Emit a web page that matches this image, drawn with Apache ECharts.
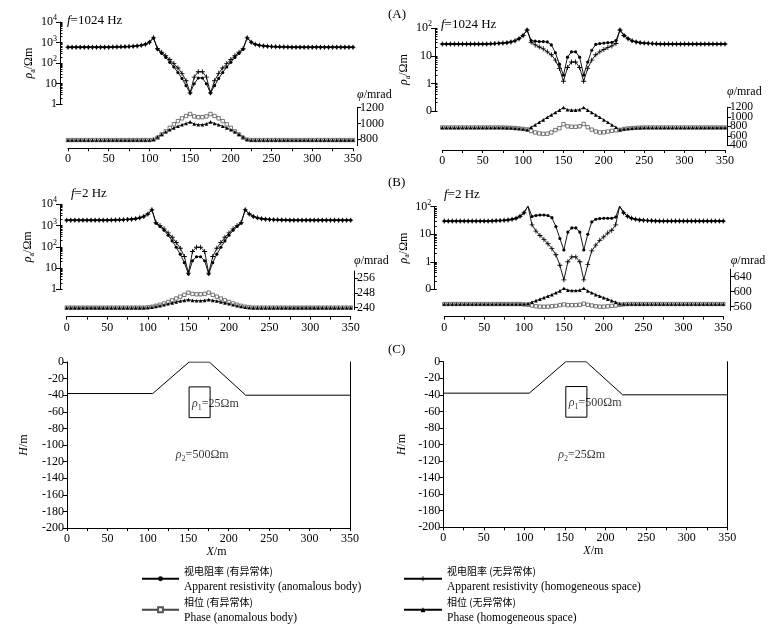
<!DOCTYPE html>
<html><head><meta charset="utf-8">
<script src="https://cdn.jsdelivr.net/npm/echarts@6/dist/echarts.min.js"></script>
<style>html,body{margin:0;padding:0;background:#fff}#c{width:781px;height:630px}</style>
</head><body><div id="c"></div>
<script>
// ---------- data ----------
const xs = [0,5,10,15,20,25,30,35,40,45,50,55,60,65,70,75,80,85,90,95,100,105,110,115,120,125,130,135,140,145,150,155,160,165,170,175,180,185,190,195,200,205,210,215,220,225,230,235,240,245,250,255,260,265,270,275,280,285,290,295,300,305,310,315,320,325,330,335,340,345,350];

// (A) left: f=1024 Hz, rho1=25, rho2=500
const tlRhoA = [600,600,600,600,600,600,600,600,600,600, 600,610,615,620,630,640,660,690,740,830, 1050,1700,470,300,190,110,65,35,18,8, 3.5,10,19,19,10,3.5,8,18,35,65, 110,190,300,470,1700,1050,830,740,690,660, 640,630,620,615,610,600,600,600,600,600, 600,600,600,600,600,600,600,600,600,600, 600];
const tlRhoH = [600,600,600,600,600,600,600,600,600,600, 600,610,615,620,630,640,660,690,740,830, 1050,1700,500,340,230,150,95,58,32,14, 3.6,21,38,38,21,3.6,14,32,58,95, 150,230,340,500,1700,1050,830,740,690,660, 640,630,620,615,610,600,600,600,600,600, 600,600,600,600,600,600,600,600,600,600, 600];
const tlPhA = [790,790,790,790,790,790,790,790,790,790, 790,790,790,790,790,790,790,790,790,790, 790,795,820,860,900,945,990,1030,1065,1095, 1120,1090,1080,1080,1090,1120,1095,1065,1030,990, 945,900,860,820,795,790,790,790,790,790, 790,790,790,790,790,790,790,790,790,790, 790,790,790,790,790,790,790,790,790,790, 790];
const tlPhH = [790,790,790,790,790,790,790,790,790,790, 790,790,790,790,790,790,790,790,790,790, 790,800,830,865,895,920,945,965,985,1000, 1020,995,985,985,995,1020,1000,985,965,945, 920,895,865,830,800,790,790,790,790,790, 790,790,790,790,790,790,790,790,790,790, 790,790,790,790,790,790,790,790,790,790, 790];

// (A) right: f=1024 Hz, rho1=500, rho2=25
const trRhoA = [27,27,27,27,27,27,27,27,27,27, 27,27,27.5,28,28.5,29,30,32,35,42, 55,87,36,34,33,33,32,25,13,5, 2,9,14,14,9,2,6,16,26,28, 29,30,31,36,87,55,42,35,32,30, 29,28.5,28,27.5,27,27,27,27,27,27, 27,27,27,27,27,27,27,27,27,27, 27];
const trRhoH = [27,27,27,27,27,27,27,27,27,27, 27,27,27.5,28,28.5,29,30,32,35,42, 55,87,31,25,21,18,14,11,7,3.5, 1.2,3.8,6,6,3.8,1.2,3.5,7,11,14, 17,20,23,28,87,55,42,35,32,30, 29,28.5,28,27.5,27,27,27,27,27,27, 27,27,27,27,27,27,27,27,27,27, 27];
const trPhA = [775,775,775,775,775,775,775,775,775,775, 775,775,775,775,775,775,772,768,762,755, 745,735,700,670,650,640,645,670,720,760, 845,800,790,790,800,850,780,730,690,670, 675,690,705,715,725,745,755,762,768,772, 775,775,775,775,775,775,775,775,775,775, 775,775,775,775,775,775,775,775,775,775, 775];
const trPhH = [775,775,775,775,775,775,775,775,775,775, 775,775,775,775,775,775,772,768,762,755, 745,730,780,830,885,935,990,1040,1090,1140, 1195,1150,1140,1140,1150,1195,1140,1090,1040,990, 935,885,830,780,730,745,755,762,768,772, 775,775,775,775,775,775,775,775,775,775, 775,775,775,775,775,775,775,775,775,775, 775];

// (B) left: f=2 Hz, rho1=25, rho2=500
const mlRhoA = [1800,1800,1800,1800,1800,1800,1800,1800,1800,1800, 1800,1820,1840,1870,1900,1950,2000,2100,2300,2700, 3500,5500,1300,900,600,350,190,95,45,18, 5.2,22,34,34,22,5.2,18,45,95,190, 350,600,900,1300,5500,3500,2700,2300,2100,2000, 1950,1900,1870,1840,1820,1800,1800,1800,1800,1800, 1800,1800,1800,1800,1800,1800,1800,1800,1800,1800, 1800];
const mlRhoH = [1800,1800,1800,1800,1800,1800,1800,1800,1800,1800, 1800,1820,1840,1870,1900,1950,2000,2100,2300,2700, 3500,5500,1400,1000,700,450,280,160,85,35, 5.8,60,95,95,60,5.8,35,85,160,280, 450,700,1000,1400,5500,3500,2700,2300,2100,2000, 1950,1900,1870,1840,1820,1800,1800,1800,1800,1800, 1800,1800,1800,1800,1800,1800,1800,1800,1800,1800, 1800];
const mlPhA = [240,240,240,240,240,240,240,240,240,240, 240,240,240,240,240,240,240,240,240,240, 240.2,240.5,241,241.6,242.3,243.1,244,245,246,247, 248.2,247.5,247.3,247.3,247.5,248.2,247,246,245,244, 243.1,242.3,241.6,241,240.5,240.2,240,240,240,240, 240,240,240,240,240,240,240,240,240,240, 240,240,240,240,240,240,240,240,240,240, 240];
const mlPhH = [240,240,240,240,240,240,240,240,240,240, 240,240,240,240,240,240,240,240,240,240, 240.1,240.3,240.7,241.1,241.6,242.1,242.6,243.1,243.6,244, 244.4,244,243.8,243.8,244,244.4,244,243.6,243.1,242.6, 242.1,241.6,241.1,240.7,240.3,240.1,240,240,240,240, 240,240,240,240,240,240,240,240,240,240, 240,240,240,240,240,240,240,240,240,240, 240];

// (B) right: f=2 Hz, rho1=500, rho2=25
const mrRhoA = [30,30,30,30,30,30,30,30,30,30, 30,30,30.5,31,31.5,32,33,35,38,45, 60,105,44,48,50,50,48,40,19,7, 2.7,12,17,17,12,2.7,10,28,35,37, 38,38,38,42,105,60,45,38,35,33, 32,31.5,31,30.5,30,30,30,30,30,30, 30,30,30,30,30,30,30,30,30,30, 30];
const mrRhoH = [30,30,30,30,30,30,30,30,30,30, 30,30,30.5,31,31.5,32,33,35,38,45, 60,105,22,13,9,6.5,4.5,3,1.8,0.75, 0.22,1.0,1.5,1.5,1.0,0.22,0.8,2.5,4,6, 8,11,14,22,105,60,45,38,35,33, 32,31.5,31,30.5,30,30,30,30,30,30, 30,30,30,30,30,30,30,30,30,30, 30];
const mrPhA = [567,567,567,567,567,567,567,567,567,567, 567,567,567,567,567,567,567,567,567,567, 566,565,563,561,560,560,560,561,562,564, 566,564,564,564,565,568,565,563,561,560, 560,561,562,563,565,566,567,567,567,567, 567,567,567,567,567,567,567,567,567,567, 567,567,567,567,567,567,567,567,567,567, 567];
const mrPhH = [567,567,567,567,567,567,567,567,567,567, 567,567,567,567,567,567,567,567,567,567, 567,568,572,576,580,584,588,592,597,602, 609,604,603,603,604,609,602,597,592,588, 584,580,576,572,568,567,567,567,567,567, 567,567,567,567,567,567,567,567,567,567, 567,567,567,567,567,567,567,567,567,567, 567];

// (C) model geometry
const topoX = [0,106,151,176,221,350];
const topoH = [-38,-38,0,0,-40,-40];
const boxX = [151,177,177,151,151];
const boxH = [-30,-30,-67,-67,-30];
const labelX = [154,134,154,141];
const labelH = [-50,-112,-50,-112];
const labelText = ['{i|ρ}{sub|1}{n|=25Ωm}','{i|ρ}{sub|2}{n|=500Ωm}','{i|ρ}{sub|1}{n|=500Ωm}','{i|ρ}{sub|2}{n|=25Ωm}'];

// ticks / labels
const xTicks = [0,25,50,75,100,125,150,175,200,225,250,275,300,325,350];
const xLabels = [0,50,100,150,200,250,300,350];
const phTicksTL = [800,1000,1200];
const phTicksTR = [400,800,1200];
const phTicksTR2 = [600,1000];
const phTicksML = [240,248,256];
const phTicksMR = [560,600,640];
const rhoExpText = {'-1':'{n|0}','0':'{n|1}','1':'{n|10}','2':'{n|10}{s|2}','3':'{n|10}{s|3}','4':'{n|10}{s|4}'};
const legendText = {
  rhoA: ['视电阻率 (有异常体)','Apparent resistivity (anomalous body)'],
  phA: ['相位 (有异常体)','Phase (anomalous body)'],
  rhoH: ['视电阻率 (无异常体)','Apparent resistivity (homogeneous space)'],
  phH: ['相位 (无异常体)','Phase (homogeneous space)']
};

// ---------- styles ----------
const FONT = 'Liberation Serif';
const CJK = 'Noto Sans CJK SC';
const K = '#000';
const rich = {
  n: {fontFamily: FONT, fontSize: 12, color: K, lineHeight: 16},
  i: {fontFamily: FONT, fontSize: 12, color: K, lineHeight: 16, fontStyle: 'italic'},
  sub: {fontFamily: FONT, fontSize: 8, color: K, lineHeight: 8, verticalAlign: 'bottom'},
  s: {fontFamily: FONT, fontSize: 8, color: K, lineHeight: 8, verticalAlign: 'top'}
};
const lineK = {color: K, width: 1};
const axLine = {show: true, onZero: false, lineStyle: lineK};
const PLUS = 'path://M-0.17,-1H0.17V-0.17H1V0.17H0.17V1H-0.17V0.17H-1V-0.17H-0.17Z';
const plain = v => String(Math.round(v * 100) / 100);

// ---------- layout ----------
function grid(l, t, w, h) {
  return {left: l, top: t, width: w, height: h, containLabel: false, outerBoundsMode: 'none'};
}
const grids = [
  grid(68, 22, 285, 82.3), grid(68, 107.7, 285, 37.9),
  grid(442.3, 28.3, 282.7, 82.7), grid(442.3, 107.3, 282.7, 38),
  grid(66.7, 204.3, 284, 85), grid(66.7, 271, 284, 38.5),
  grid(444.3, 206.7, 279, 82.6), grid(444.3, 269.2, 279, 41.2),
  grid(67, 362, 283, 166), grid(443.3, 361.7, 284, 165.6)
];

function hiddenX(g) { return {type: 'value', gridIndex: g, min: 0, max: 350, show: false, axisLine: {onZero: false}}; }
function dataX(g, off) {
  return {type: 'value', gridIndex: g, min: 0, max: 350, position: 'bottom', offset: off,
    axisLine: axLine,
    axisTick: {show: true, length: 3, customValues: xTicks, lineStyle: lineK},
    axisLabel: {customValues: xLabels, margin: 5, fontFamily: FONT, fontSize: 12, color: K,
      formatter: plain, hideOverlap: false},
    splitLine: {show: false}};
}
function modelX(g, padL) {
  const a = dataX(g, 0);
  a.name = '{i|X}{n|/m}'; a.nameLocation = 'middle'; a.nameGap = 15;
  a.nameTextStyle = {rich: rich, padding: [0, 0, 0, padL]};
  return a;
}
function rhoLog(g, min, max, off, gap) {
  return {type: 'log', logBase: 10, gridIndex: g, min: min, max: max, position: 'left', offset: off,
    axisLine: axLine,
    axisTick: {show: true, length: 4, lineStyle: lineK},
    axisLabel: {margin: 3, hideOverlap: false, showMinLabel: true, showMaxLabel: true,
      formatter: v => rhoExpText[String(Math.round(Math.log10(v)))] || '', rich: rich},
    splitLine: {show: false}, minorTick: {show: false},
    name: '{i|ρ}{sub|a}{n|/Ωm}', nameLocation: 'middle', nameGap: gap, nameRotate: 90,
    nameTextStyle: {rich: rich}};
}
function rhoMinor(g, e0, e1, off) {
  const vals = [];
  for (let d = e0; d < e1; d++) { for (let k = 1; k <= 9; k++) vals.push(d + Math.log10(k)); }
  vals.push(e1);
  return {type: 'value', gridIndex: g, min: e0, max: e1, position: 'left', offset: off,
    axisLine: {show: false, onZero: false}, axisLabel: {show: false}, splitLine: {show: false},
    axisTick: {show: true, inside: true, length: 2.5, customValues: vals, lineStyle: lineK}};
}
function phaseAx(g, min, max, off, vals, gap, fs, lh) {
  return {type: 'value', gridIndex: g, min: min, max: max, position: 'right', offset: off,
    axisLine: axLine,
    axisTick: {show: true, length: 4, customValues: vals, lineStyle: lineK},
    axisLabel: {customValues: vals, margin: 3, fontFamily: FONT, fontSize: fs, lineHeight: lh, color: K,
      formatter: plain, hideOverlap: false, showMinLabel: true, showMaxLabel: true},
    splitLine: {show: false},
    name: '{i|φ}{n|/mrad}', nameLocation: 'end', nameGap: gap,
    nameTextStyle: {rich: rich, align: 'left', verticalAlign: 'bottom'}};
}
function phaseExtra(g, min, max, off, vals, fs, lh) {
  return {type: 'value', gridIndex: g, min: min, max: max, position: 'right', offset: off,
    axisLine: {show: false, onZero: false},
    axisTick: {show: true, length: 4, customValues: vals, lineStyle: lineK},
    axisLabel: {customValues: vals, margin: 3, fontFamily: FONT, fontSize: fs, lineHeight: lh, color: K,
      formatter: plain, hideOverlap: false},
    splitLine: {show: false}};
}
function modelY(g, gap) {
  return {type: 'value', gridIndex: g, min: -200, max: 0, interval: 20, position: 'left',
    axisLine: axLine,
    axisTick: {show: true, length: 4, lineStyle: lineK},
    axisLabel: {margin: 3, fontFamily: FONT, fontSize: 12, color: K, formatter: plain,
      hideOverlap: false, showMinLabel: true, showMaxLabel: true},
    splitLine: {show: false},
    name: '{i|H}{n|/m}', nameLocation: 'middle', nameGap: gap, nameRotate: 90,
    nameTextStyle: {rich: rich}};
}
function modelRight(g) {
  return {type: 'value', gridIndex: g, min: -200, max: 0, position: 'right',
    axisLine: axLine, axisTick: {show: false},
    axisLabel: {show: false}, splitLine: {show: false}};
}

const xAxes = [hiddenX(0), dataX(1, 2.7), hiddenX(2), dataX(3, 4.7), hiddenX(4), dataX(5, 7.2),
  hiddenX(6), dataX(7, 6.3), modelX(8, 16), modelX(9, 16)];
const yAxes = [
  rhoLog(0, 1, 10000, 8, 20), rhoMinor(0, 0, 4, 8), phaseAx(1, 720, 1200, 4, phTicksTL, 3, 12, 14),
  rhoLog(2, 0.1, 100, 7.3, 20), rhoMinor(2, -1, 2, 7.3), phaseAx(3, 400, 1200, 2, phTicksTR, 7, 11.5, 10),
  rhoLog(4, 1, 10000, 6.7, 24), rhoMinor(4, 0, 4, 6.7), phaseAx(5, 239, 260, 3.3, phTicksML, 2, 12, 14),
  rhoLog(6, 0.1, 100, 10, 17), rhoMinor(6, -1, 2, 10), phaseAx(7, 550, 660, 7.4, phTicksMR, 0, 12, 14),
  modelY(8, 35), modelRight(8), modelY(9, 33), modelRight(9),
  phaseExtra(3, 400, 1200, 2, phTicksTR2, 11.5, 10)
];

// ---------- series ----------
const styles = {
  rhoA: {symbol: 'circle', symbolSize: 3.2, itemStyle: {color: K}, lineStyle: {color: K, width: 0.9}},
  rhoH: {symbol: PLUS, symbolSize: 5, itemStyle: {color: K}, lineStyle: {color: K, width: 0.9}},
  phA: {symbol: 'rect', symbolSize: 3.4, itemStyle: {color: '#fff', borderColor: '#555', borderWidth: 0.8}, lineStyle: {color: '#444', width: 0.9}},
  phH: {symbol: 'triangle', symbolSize: 3.6, itemStyle: {color: K}, lineStyle: {color: K, width: 0.9}}
};
function curve(name, xi, yi, ys) {
  const st = styles[name];
  return Object.assign({type: 'line', name: name, xAxisIndex: xi, yAxisIndex: yi,
    data: xs.map((x, i) => [x, ys[i]]), showSymbol: true, silent: true,
    emphasis: {disabled: true}, animation: false}, JSON.parse(JSON.stringify(st)), {symbol: st.symbol});
}
const panels = [
  {d: [tlRhoA, tlRhoH, tlPhA, tlPhH], rx: 0, ry: 0, px: 1, py: 2},
  {d: [trRhoA, trRhoH, trPhA, trPhH], rx: 2, ry: 3, px: 3, py: 5},
  {d: [mlRhoA, mlRhoH, mlPhA, mlPhH], rx: 4, ry: 6, px: 5, py: 8},
  {d: [mrRhoA, mrRhoH, mrPhA, mrPhH], rx: 6, ry: 9, px: 7, py: 11}
];
const series = [];
panels.forEach(p => {
  series.push(curve('rhoA', p.rx, p.ry, p.d[0]));
  series.push(curve('rhoH', p.rx, p.ry, p.d[1]));
  series.push(curve('phA', p.px, p.py, p.d[2]));
  series.push(curve('phH', p.px, p.py, p.d[3]));
});
[[8, 12, 0], [9, 14, 2]].forEach(([xi, yi, li]) => {
  series.push({type: 'line', xAxisIndex: xi, yAxisIndex: yi, symbol: 'none', silent: true, animation: false,
    data: topoX.map((x, i) => [x, topoH[i]]), lineStyle: lineK});
  series.push({type: 'line', xAxisIndex: xi, yAxisIndex: yi, symbol: 'none', silent: true, animation: false,
    data: boxX.map((x, i) => [x, boxH[i]]), lineStyle: lineK});
  series.push({type: 'scatter', xAxisIndex: xi, yAxisIndex: yi, symbolSize: 1, silent: true, animation: false,
    itemStyle: {color: 'transparent'},
    data: [li, li + 1].map(j => ({value: [labelX[j], labelH[j]], t: labelText[j]})),
    label: {show: true, position: 'right', distance: 0, rich: rich,
      formatter: p => p.data.t}});
});

// ---------- titles ----------
const tStyle = {fontFamily: FONT, fontSize: 13, fontWeight: 'normal', color: K,
  rich: {i: {fontFamily: FONT, fontSize: 13, fontStyle: 'italic', color: K}, n: {fontFamily: FONT, fontSize: 13, color: K}}};
function ttl(text, l, t) { return {text: text, left: l, top: t, padding: 0, textStyle: tStyle}; }
const titles = [
  ttl('{i|f}{n|=1024 Hz}', 67, 14), ttl('{i|f}{n|=1024 Hz}', 441, 18),
  ttl('{i|f}{n|=2 Hz}', 71, 187), ttl('{i|f}{n|=2 Hz}', 444, 188),
  ttl('{n|(A)}', 388, 8), ttl('{n|(B)}', 388, 176), ttl('{n|(C)}', 388, 343)
];

// ---------- legend ----------
const legRich = {
  cn: {fontFamily: CJK, fontSize: 10, color: K, lineHeight: 15.5},
  en: {fontFamily: FONT, fontSize: 11.5, color: K, lineHeight: 15.5}
};
function leg(l, names, w) {
  return {left: l, top: 566, orient: 'vertical', padding: 0, itemGap: 4.5, itemWidth: w, itemHeight: 6,
    selectedMode: false, data: names,
    formatter: n => '{cn|' + legendText[n][0] + '}\n{en|' + legendText[n][1] + '}',
    textStyle: {rich: legRich}};
}

const chart = echarts.init(document.getElementById('c'), null, {renderer: 'canvas'});
chart.setOption({
  backgroundColor: '#fff',
  animation: false,
  title: titles,
  legend: [leg(141, ['rhoA', 'phA'], 37), leg(403, ['rhoH', 'phH'], 38)],
  grid: grids,
  xAxis: xAxes,
  yAxis: yAxes,
  series: series
});
</script></body></html>
